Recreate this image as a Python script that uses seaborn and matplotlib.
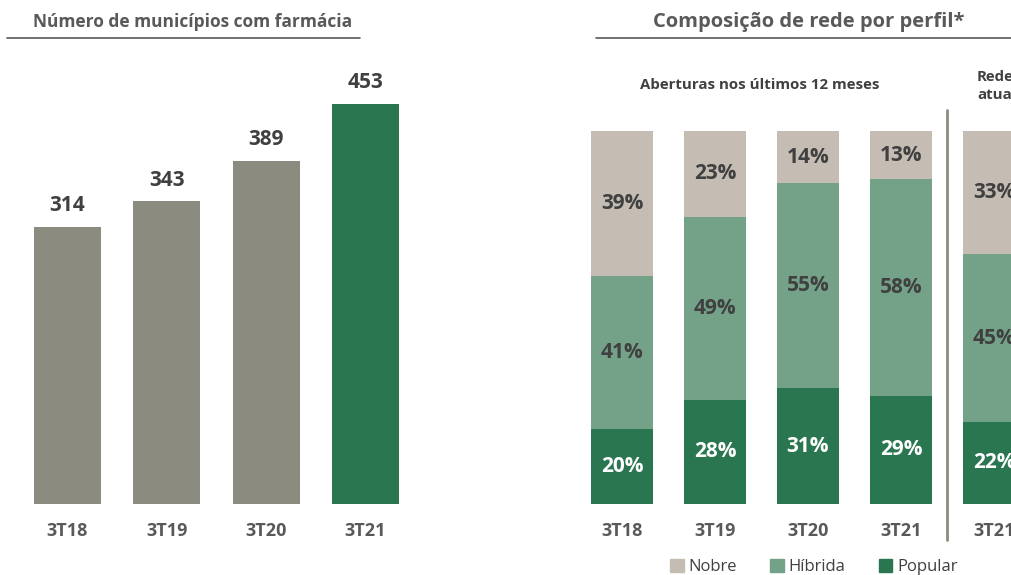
import matplotlib.pyplot as plt
import seaborn as sns
import pandas as pd
from matplotlib.patches import Patch
from matplotlib.lines import Line2D

# Data
anos = ['3T18', '3T19', '3T20', '3T21']
municipios = [314, 343, 389, 453]

perfis_x = ['3T18', '3T19', '3T20', '3T21', '3T21 atual']
perfis_labels = ['3T18', '3T19', '3T20', '3T21', '3T21']
popular = [20, 28, 31, 29, 22]
hibrida = [41, 49, 55, 58, 45]
nobre = [39, 23, 14, 13, 33]

c_cinza = '#8c8b80'
c_verde = '#2a7650'
c_hibrida = '#73a288'
c_nobre = '#c5bdb3'
c_texto = '#404040'

sns.set_style('white')
plt.rcParams['font.family'] = ['Open Sans', 'DejaVu Sans']

W, H = 1012, 575
fig = plt.figure(figsize=(W / 100, H / 100), dpi=100)

def px_axes(x0, x1, ytop, ybot):
    return fig.add_axes([x0 / W, 1 - ybot / H, (x1 - x0) / W, (ybot - ytop) / H])

# left chart
ax1 = px_axes(17.8, 415.2, 504 - 500 * 400 / 453, 504)
df1 = pd.DataFrame({'ano': anos, 'n': municipios})
sns.barplot(data=df1, x='ano', y='n', hue='ano', palette=[c_cinza] * 3 + [c_verde],
            legend=False, width=0.675, saturation=1, linewidth=0, ax=ax1)
ax1.set_xlim(-0.5, 3.5)
ax1.set_ylim(0, 500)
for i, v in enumerate(municipios):
    ax1.text(i, v + 12, str(v), ha='center', va='bottom', fontsize=15,
             fontweight='bold', color=c_texto)

# right chart
ax2 = px_axes(575.5, 1040.5, 131, 504)
df2 = pd.DataFrame({'x': perfis_x, 'popular': popular, 'hibrida': hibrida, 'nobre': nobre})
sns.barplot(data=df2, x='x', y='popular', color=c_verde, saturation=1, width=0.667,
            linewidth=0, ax=ax2)
sns.barplot(data=df2, x='x', y='hibrida', bottom=df2['popular'], color=c_hibrida,
            saturation=1, width=0.667, linewidth=0, ax=ax2)
sns.barplot(data=df2, x='x', y='nobre', bottom=df2['popular'] + df2['hibrida'],
            color=c_nobre, saturation=1, width=0.667, linewidth=0, ax=ax2)
ax2.set_xlim(-0.5, 4.5)
ax2.set_ylim(0, 100)
for i in range(len(perfis_x)):
    p, h, n = popular[i], hibrida[i], nobre[i]
    ax2.text(i, p / 2, f'{p}%', ha='center', va='center', fontsize=15,
             fontweight='bold', color='white')
    ax2.text(i, p + h / 2, f'{h}%', ha='center', va='center', fontsize=15,
             fontweight='bold', color=c_texto)
    ax2.text(i, p + h + n / 2, f'{n}%', ha='center', va='center', fontsize=15,
             fontweight='bold', color=c_texto)

for ax, labels in [(ax1, anos), (ax2, perfis_labels)]:
    ax.set_xlabel('')
    ax.set_ylabel('')
    ax.set_yticks([])
    ax.set_xticks(range(len(labels)))
    ax.set_xticklabels(labels, fontsize=13, fontweight='bold', color='#595959')
    ax.tick_params(axis='x', length=0, pad=13)
    sns.despine(ax=ax, left=True, bottom=True)

# titles and rules
fig.text(193 / W, 1 - 22 / H, 'Número de municípios com farmácia', ha='center', va='center',
         fontsize=12.5, fontweight='bold', color='#595959')
fig.text(809 / W, 1 - 22 / H, 'Composição de rede por perfil*', ha='center', va='center',
         fontsize=14.5, fontweight='bold', color='#595959')
fig.add_artist(Line2D([7 / W, 360 / W], [1 - 38 / H] * 2, color='#595959', lw=1.2))
fig.add_artist(Line2D([596 / W, 1012 / W], [1 - 38 / H] * 2, color='#595959', lw=1.2))

fig.text(760 / W, 1 - 85 / H, 'Aberturas nos últimos 12 meses', ha='center', va='center',
         fontsize=10.8, fontweight='bold', color=c_texto)
fig.text(977 / W, 1 - 86 / H, 'Rede\natual', ha='left', va='center', linespacing=1.3,
         fontsize=10.8, fontweight='bold', color=c_texto)
fig.add_artist(Line2D([947 / W, 947 / W], [1 - 110 / H, 1 - 540 / H], color=c_cinza, lw=2))

handles = [Patch(color=c_nobre, label='Nobre'), Patch(color=c_hibrida, label='Híbrida'),
           Patch(color=c_verde, label='Popular')]
fig.legend(handles=handles, loc='center', bbox_to_anchor=(814 / W, 1 - 567 / H), ncol=3,
           frameon=False, fontsize=12, handlelength=0.8, handleheight=0.8, handletextpad=0.3,
           columnspacing=2.0, labelcolor=c_texto)

fig.savefig('out.png', dpi=100)
